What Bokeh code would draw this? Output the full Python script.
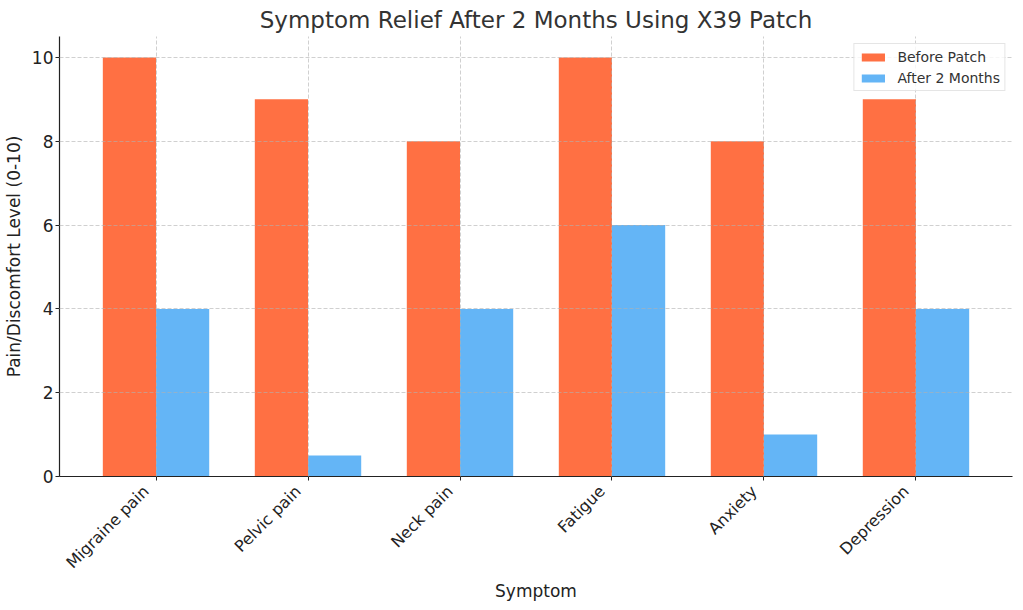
import numpy as np
from bokeh.plotting import figure
from bokeh.models import (FixedTicker, Range1d, Legend, LegendItem, LinearAxis,
                          CustomJSTickFormatter)
from bokeh.embed import file_html
from bokeh.resources import INLINE

symptoms = ["Migraine pain", "Pelvic pain", "Neck pain", "Fatigue", "Anxiety", "Depression"]
before = [10, 9, 8, 10, 8, 9]
after = [4, 0.5, 4, 6, 1, 4]
y_ticks = [0, 2, 4, 6, 8, 10]

FONT = "DejaVu Sans"
w = 0.35
idx = np.arange(len(symptoms))
label_shift = 0.066  # rotated labels end just left of the tick, as in matplotlib

p = figure(frame_width=953, frame_height=440, output_backend="svg", toolbar_location=None,
           x_range=Range1d(-0.635, 5.635), y_range=Range1d(0, 10.5),
           x_axis_location=None,
           min_border_left=52, min_border_right=2, min_border_top=0, min_border_bottom=0)

r1 = p.vbar(x=idx - w / 2, top=before, width=w, color="#FF7043", line_color=None)
r2 = p.vbar(x=idx + w / 2, top=after, width=w, color="#64B5F6", line_color=None)

p.title.text = "Symptom Relief After 2 Months Using X39 Patch"
p.title.align = "center"
p.title.text_font = FONT
p.title.text_font_size = "23px"
p.title.text_font_style = "normal"
p.title.text_color = "#333333"
p.title.standoff = 8

xaxis = LinearAxis(
    ticker=FixedTicker(ticks=list(idx - label_shift), minor_ticks=list(idx)),
    formatter=CustomJSTickFormatter(args=dict(labels=symptoms),
                                    code="return labels[Math.round(tick)];"),
    major_label_orientation=np.pi / 4,
    axis_label="Symptom",
)
p.add_layout(xaxis, "below")
p.yaxis.ticker = FixedTicker(ticks=y_ticks)
p.yaxis.axis_label = "Pain/Discomfort Level (0-10)"

for ax in (xaxis, p.yaxis[0]):
    ax.axis_label_text_font = FONT
    ax.axis_label_text_font_size = "17px"
    ax.axis_label_text_font_style = "normal"
    ax.axis_label_text_color = "#222222"
    ax.major_label_text_font = FONT
    ax.major_label_text_font_size = "17px"
    ax.major_label_text_color = "#222222"
    ax.axis_line_color = "#222222"
    ax.axis_line_width = 1.2
    ax.major_tick_line_color = "#222222"
    ax.major_tick_out = 4
    ax.major_tick_in = 0
    ax.minor_tick_line_color = None

xaxis.major_label_text_font_size = "16px"
xaxis.major_tick_line_color = None
xaxis.minor_tick_line_color = "#222222"
xaxis.minor_tick_out = 4
xaxis.minor_tick_in = 0
xaxis.major_label_standoff = 8
xaxis.axis_label_standoff = -1
p.yaxis.major_label_standoff = 2
p.yaxis.axis_label_standoff = 5

p.xgrid.ticker = FixedTicker(ticks=list(idx))
p.outline_line_color = None
for g in (p.xgrid[0], p.ygrid[0]):
    g.grid_line_color = "#b0b0b0"
    g.grid_line_dash = "4 2"
    g.grid_line_alpha = 0.6
    g.level = "annotation"

legend = Legend(items=[LegendItem(label="Before Patch", renderers=[r1]),
                       LegendItem(label="After 2 Months", renderers=[r2])],
                location="top_right")
legend.label_text_font = FONT
legend.label_text_font_size = "14px"
legend.label_text_color = "#333333"
legend.glyph_width = 29
legend.glyph_height = 10
legend.label_height = 17
legend.label_standoff = 10
legend.spacing = 4
legend.padding = 4
legend.margin = 7
legend.border_line_color = "#cccccc"
legend.background_fill_alpha = 0.8
p.add_layout(legend)

open("out.html", "w").write(file_html(p, INLINE))
